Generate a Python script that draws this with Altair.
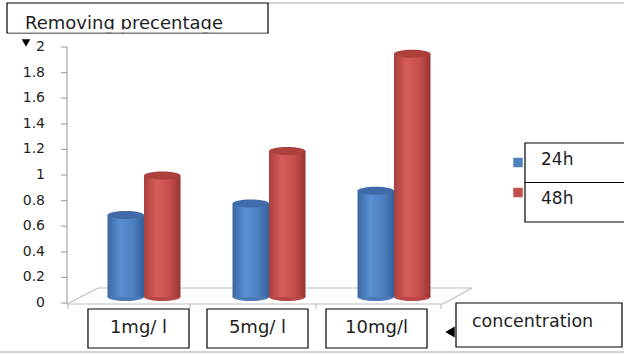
import altair as alt
import pandas as pd

# ---- data -------------------------------------------------------------
concentrations = ["1mg/ l", "5mg/ l", "10mg/l"]
series = ["24h", "48h"]
removal_24h = [0.64, 0.73, 0.83]
removal_48h = [0.95, 1.14, 1.90]
tick_values = [0, 0.2, 0.4, 0.6, 0.8, 1.0, 1.2, 1.4, 1.6, 1.8, 2.0]
tick_labels = ["0", "0.2", "0.4", "0.6", "0.8", "1", "1.2", "1.4", "1.6", "1.8", "2"]
series_colors = ["#4f81bd", "#c0504d"]
y_title = "Removing precentage"
x_title = "concentration"

bars_df = pd.DataFrame({
    "concentration": concentrations * 2,
    "series": [series[0]] * len(concentrations) + [series[1]] * len(concentrations),
    "value": removal_24h + removal_48h,
})
ticks_df = pd.DataFrame({"v": tick_values, "label": tick_labels})
cats_df = pd.DataFrame({"concentration": concentrations})
legend_df = pd.DataFrame({"series": series})
one = pd.DataFrame({"k": [0]})

FONT = "DejaVu Sans"
TEXT = "#1e1e1e"
FRAME = "#a6a6a6"

# ---- scales -------------------------------------------------------------
x_bar = alt.Scale(domain=concentrations, range=[81.5, 456.5],
                  paddingInner=0.416, paddingOuter=0.208)
x_off = alt.Scale(domain=series, paddingInner=0, paddingOuter=0)
y_bar = alt.Scale(domain=[0, 2], range=[297, 41])
y_axis = alt.Scale(domain=[0, 2], range=[303, 47])
x_lab = alt.Scale(domain=concentrations, range=[79, 436],
                  paddingInner=0.151, paddingOuter=0.0755)

# flat ellipse used for the cylinder caps (unit box, scaled by size)
ELLIPSE = ("M -1 0 C -1 -0.12 -0.55 -0.22 0 -0.22 C 0.55 -0.22 1 -0.12 1 0 "
           "C 1 0.12 0.55 0.22 0 0.22 C -0.55 0.22 -1 0.12 -1 0 Z")
CAP_SIZE = 36.5 ** 2


def grad(colors, offsets):
    return alt.Gradient(
        gradient="linear",
        stops=[alt.GradientStop(color=c, offset=o) for c, o in zip(colors, offsets)],
        x1=0, x2=1, y1=0, y2=0,
    )


def cylinder(name, body, top, base):
    src = (alt.Chart(bars_df)
           .transform_filter(alt.datum.series == name)
           .transform_calculate(zero="0"))
    xs = dict(
        x=alt.X("concentration:N", scale=x_bar, axis=None, sort=concentrations),
        xOffset=alt.XOffset("series:N", scale=x_off, sort=series),
    )
    bottom = src.mark_point(shape=ELLIPSE, size=CAP_SIZE, filled=True, opacity=1,
                            fill=base, strokeOpacity=0).encode(
        **xs, y=alt.Y("zero:Q", scale=y_bar, axis=None))
    shaft = src.mark_bar(fill=body, opacity=1).encode(
        **xs, y=alt.Y("value:Q", scale=y_bar, axis=None), y2="zero:Q")
    cap = src.mark_point(shape=ELLIPSE, size=CAP_SIZE, filled=True, opacity=1,
                         fill=top, strokeOpacity=0).encode(
        **xs, y=alt.Y("value:Q", scale=y_bar, axis=None))
    return [bottom, shaft, cap]


blue_body = grad(["#3a67a3", "#5a8fd3", "#4f80c2", "#34609a"], [0, 0.35, 0.7, 1])
red_body = grad(["#a83f3d", "#d65d5a", "#c64f4c", "#973331"], [0, 0.35, 0.7, 1])
cylinders = alt.layer(
    *cylinder(series[0], blue_body, "#3f6ba8", "#4a7ab8"),
    *cylinder(series[1], red_body, "#ad3f3d", "#b84846"),
)


def rule(x, y, x2, y2, color=FRAME, width=1.2):
    return alt.Chart(one).mark_rule(color=color, strokeWidth=width).encode(
        x=alt.value(x), y=alt.value(y), x2=alt.value(x2), y2=alt.value(y2))


def box(x, y, x2, y2, fill="white", stroke="#000000"):
    return alt.Chart(one).mark_rect(fill=fill, stroke=stroke, strokeWidth=1.2).encode(
        x=alt.value(x), y=alt.value(y), x2=alt.value(x2), y2=alt.value(y2))


# chart frame
frame = [rule(268, 3, 624, 3), rule(0, 352, 624, 352)]

# floor of the 3D plot and category ticks along its front edge
floor = [
    rule(67, 304, 443, 304, "#bfbfbf"),
    rule(98, 288, 472, 288, "#bfbfbf"),
    rule(67, 304, 98, 288, "#bfbfbf"),
    rule(443, 304, 472, 288, "#bfbfbf"),
    rule(68, 304, 68, 309, "#bfbfbf"),
    rule(190, 304, 190, 309, "#bfbfbf"),
    rule(316, 304, 316, 309, "#bfbfbf"),
    rule(441, 304, 441, 309, "#bfbfbf"),
]

# value axis
axis_line = rule(67, 47, 67, 304)
axis_ticks = alt.Chart(ticks_df).mark_rule(color=FRAME, strokeWidth=1.2).encode(
    x=alt.value(61), x2=alt.value(67),
    y=alt.Y("v:Q", scale=y_axis, axis=None))
axis_labels = alt.Chart(ticks_df).mark_text(
    align="right", baseline="middle", font=FONT, fontSize=14, color=TEXT).encode(
    x=alt.value(45), y=alt.Y("v:Q", scale=y_axis, axis=None), text="label:N")
axis_arrow = alt.Chart(one).mark_point(
    shape="triangle-down", filled=True, opacity=1, size=75, color="#000000").encode(
    x=alt.value(26), y=alt.value(43))

# value axis title in its box (descenders hidden by the box edge)
title_box = box(7, 3, 268, 33)
title_text = alt.Chart(one).mark_text(
    text=y_title, align="left", baseline="alphabetic", font=FONT, fontSize=18,
    color=TEXT).encode(x=alt.value(25), y=alt.value(28.5))
title_mask = alt.Chart(one).mark_rect(fill="white").encode(
    x=alt.value(8), x2=alt.value(267), y=alt.value(29.5), y2=alt.value(32.4))

# category label boxes
cat_boxes = alt.Chart(cats_df).mark_rect(
    fill="white", stroke="#000000", strokeWidth=1.2).encode(
    x=alt.X("concentration:N", scale=x_lab, axis=None, sort=concentrations),
    y=alt.value(309), y2=alt.value(348))
cat_text = alt.Chart(cats_df).mark_text(
    align="center", baseline="middle", font=FONT, fontSize=18, color=TEXT).encode(
    x=alt.X("concentration:N", scale=x_lab, axis=None, sort=concentrations),
    y=alt.value(328), text="concentration:N")

# category axis title
xt_box = box(456, 303, 622, 347)
xt_text = alt.Chart(one).mark_text(
    text=x_title, align="left", baseline="middle", font=FONT, fontSize=17.5,
    color=TEXT).encode(x=alt.value(472), y=alt.value(322))
xt_arrow = alt.Chart(one).mark_point(
    shape="triangle-left", filled=True, opacity=1, size=120, color="#000000").encode(
    x=alt.value(450), y=alt.value(332))

# legend
leg_scale = alt.Scale(domain=series, range=[143, 222], paddingInner=0, paddingOuter=0)
leg_rows = alt.Chart(legend_df).mark_rect(
    fill="white", stroke="#000000", strokeWidth=1.2).encode(
    x=alt.value(525), x2=alt.value(630),
    y=alt.Y("series:N", sort=series, axis=None, scale=leg_scale))
leg_text = alt.Chart(legend_df).mark_text(
    align="left", baseline="middle", dy=-3, font=FONT, fontSize=17, color=TEXT).encode(
    x=alt.value(541),
    y=alt.Y("series:N", sort=series, axis=None, scale=leg_scale),
    text="series:N")
leg_swatch = alt.Chart(legend_df).mark_square(size=90, opacity=1).encode(
    x=alt.value(518),
    y=alt.Y("series:N", sort=series, axis=None,
            scale=alt.Scale(type="point", domain=series, range=[162.5, 192.5],
                            padding=0)),
    color=alt.Color("series:N", legend=None,
                    scale=alt.Scale(domain=series, range=series_colors)))

chart = alt.layer(
    *frame, *floor, axis_line, axis_ticks, axis_labels, axis_arrow,
    cylinders,
    title_box, title_text, title_mask,
    cat_boxes, cat_text,
    xt_box, xt_text, xt_arrow,
    leg_rows, leg_text, leg_swatch,
).resolve_scale(
    x="independent", y="independent", color="independent"
).properties(
    width=624, height=354, autosize="none", padding=0, background="white"
).configure_view(stroke=None)

chart.save("out.html", embed_options={"renderer": "svg", "actions": False})
